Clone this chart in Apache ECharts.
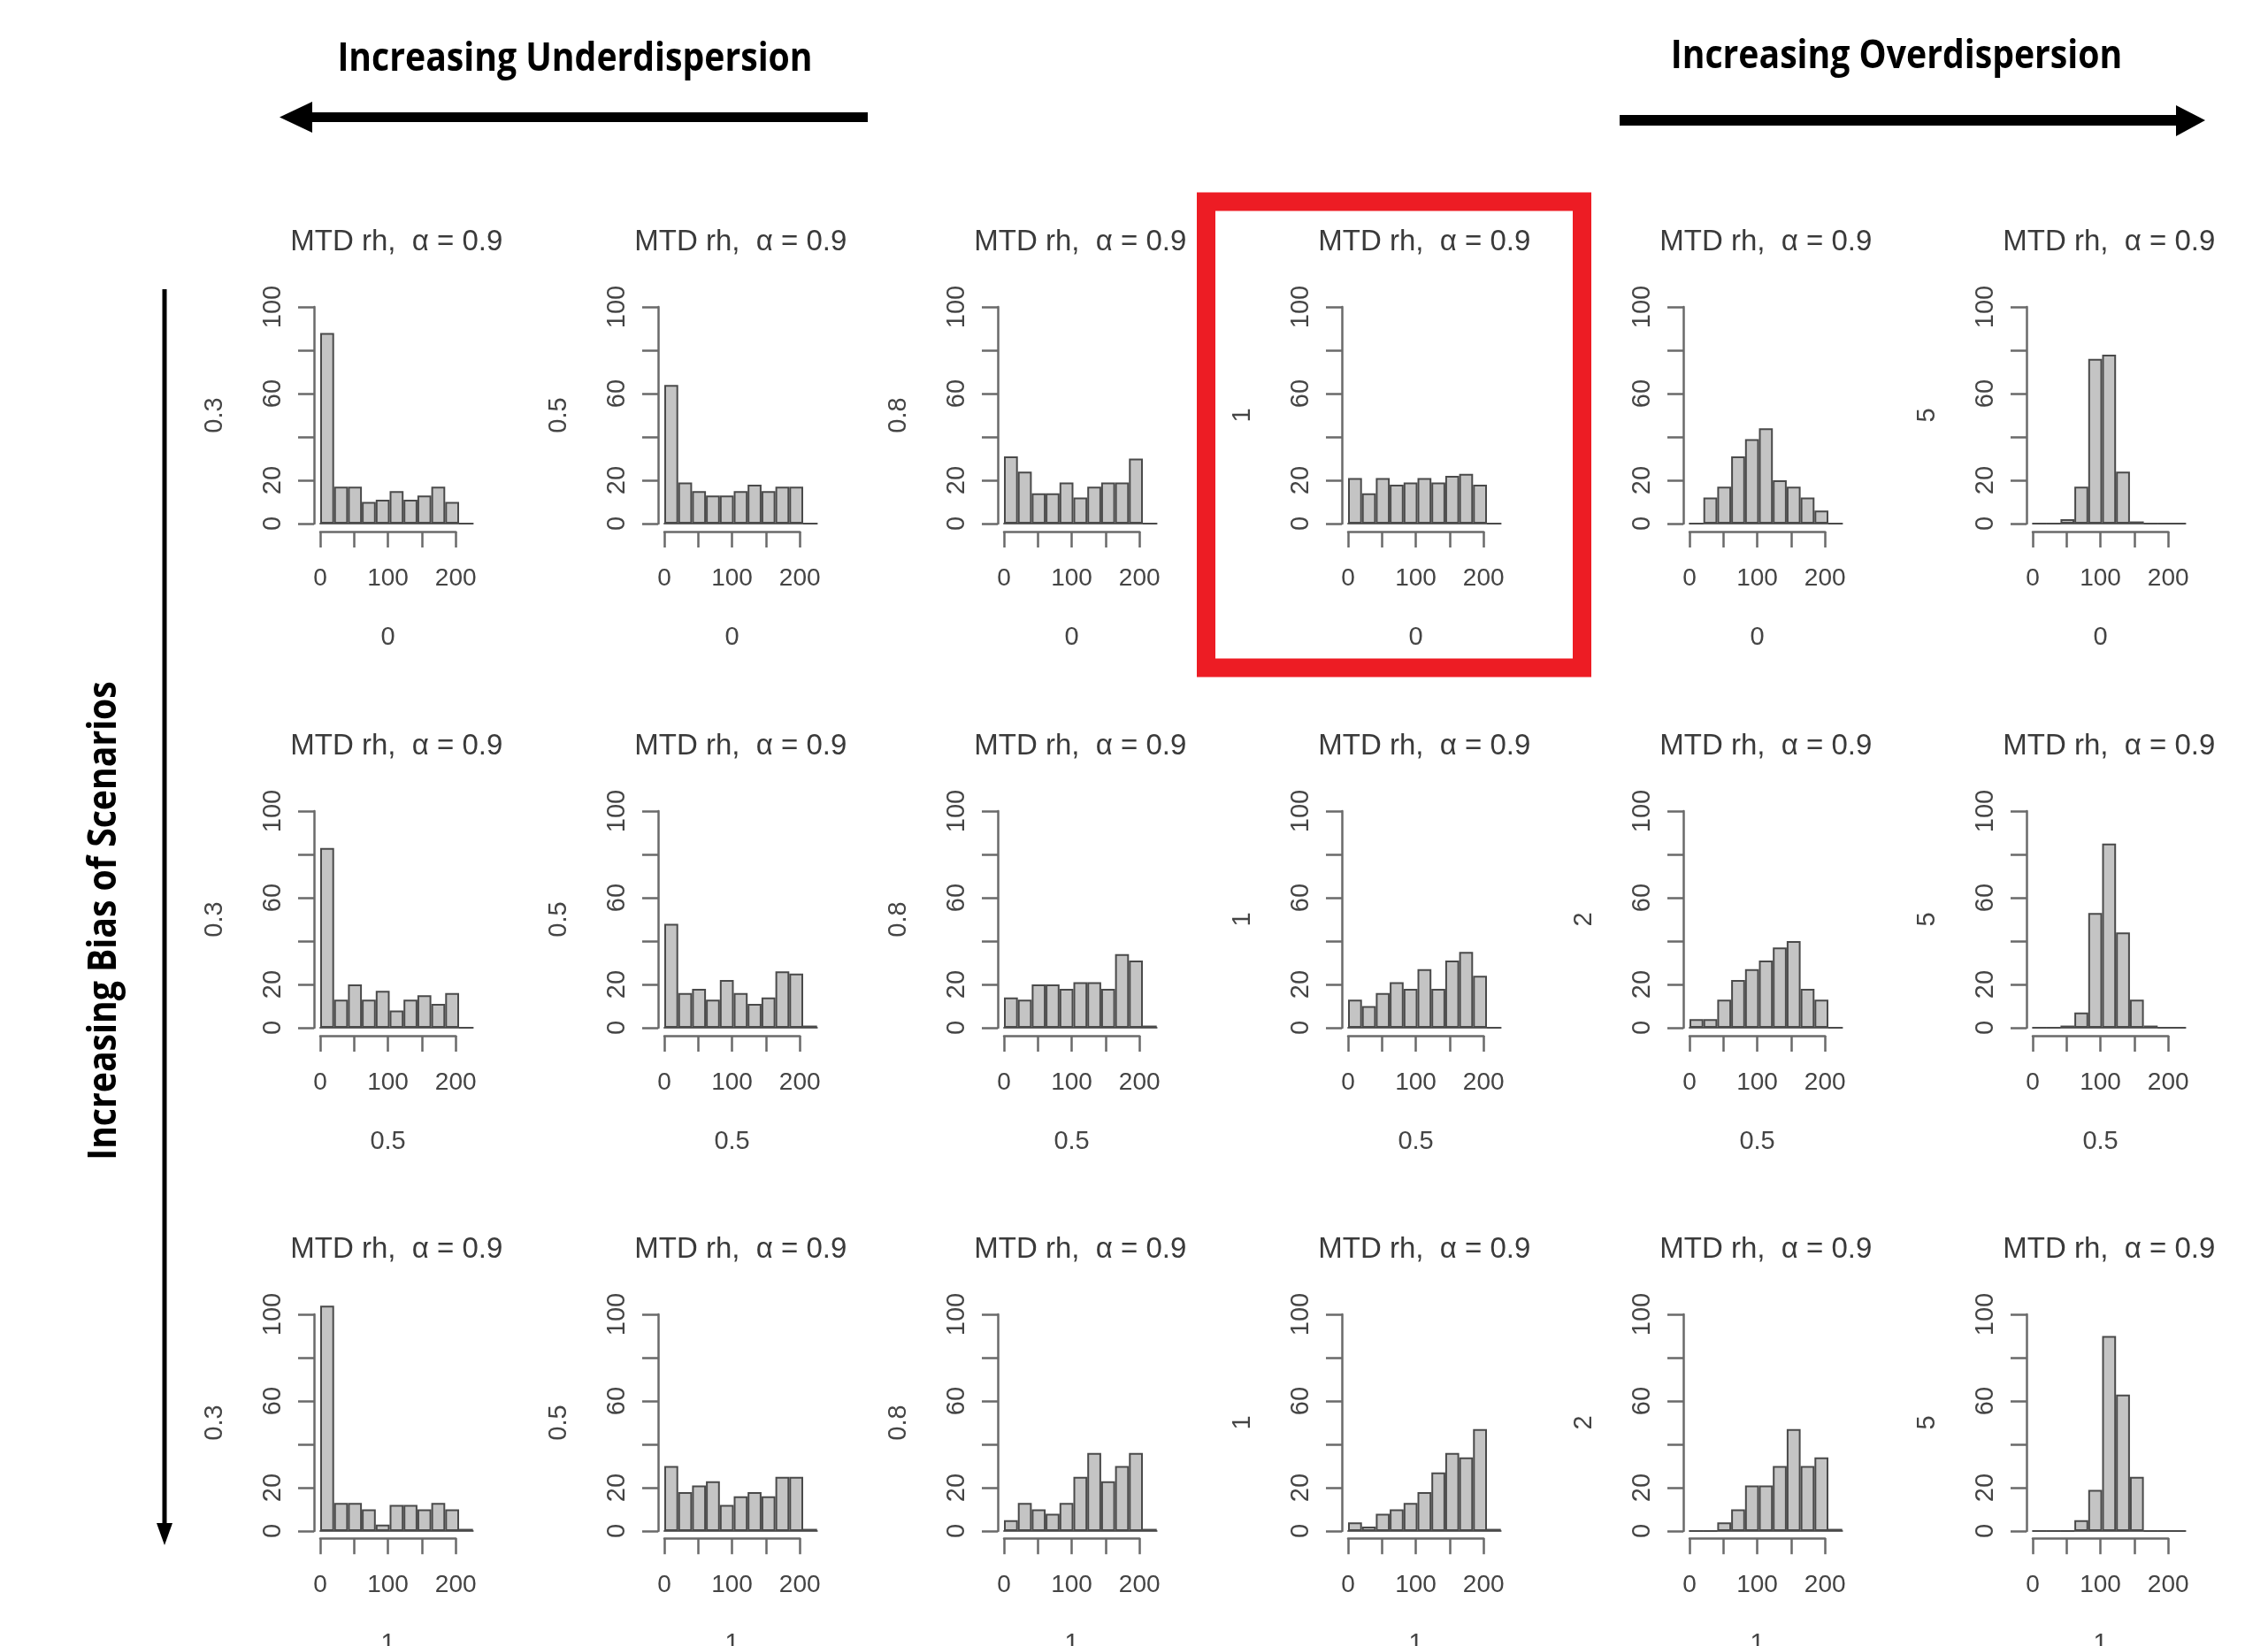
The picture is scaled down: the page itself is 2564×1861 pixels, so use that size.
<!DOCTYPE html>
<html><head><meta charset="utf-8">
<script src="https://cdn.jsdelivr.net/npm/echarts@6/dist/echarts.min.js"></script>
<style>html,body{margin:0;padding:0;background:#fff}#c{width:2564px;height:1861px}</style>
</head><body><div id="c"></div>
<script>
// ---- data ----
const bins = ['0','20.5','41','61.5','82','102.5','123','143.5','164','184.5','205'];
const yTickLabels = [0, 20, 60, 100];
const xTickLabels = [0, 100, 200];
const dispersionLabels = ['0.3', '0.5', '0.8', '1', '2', '5'];
const biasLabels = ['0', '0.5', '1'];
const panelTitle = 'MTD rh,  \u03b1 = 0.9';

// bias 0
const b0_d03 = [88, 17, 17, 10, 11, 15, 11, 13, 17, 10, 0];
const b0_d05 = [64, 19, 15, 13, 13, 15, 18, 15, 17, 17, 0];
const b0_d08 = [31, 24, 14, 14, 19, 12, 17, 19, 19, 30, 0];
const b0_d1  = [21, 14, 21, 18, 19, 21, 19, 22, 23, 18, 0];
const b0_d2  = [0, 12, 17, 31, 39, 44, 20, 17, 12, 6, 0];
const b0_d5  = [0, 0, 2, 17, 76, 78, 24, 1, 0, 0, 0];
// bias 0.5
const b05_d03 = [83, 13, 20, 13, 17, 8, 13, 15, 11, 16, 0];
const b05_d05 = [48, 16, 18, 13, 22, 16, 11, 14, 26, 25, 1];
const b05_d08 = [14, 13, 20, 20, 18, 21, 21, 18, 34, 31, 1];
const b05_d1  = [13, 10, 16, 21, 18, 27, 18, 31, 35, 24, 0];
const b05_d2  = [4, 4, 13, 22, 27, 31, 37, 40, 18, 13, 0];
const b05_d5  = [0, 0, 1, 7, 53, 85, 44, 13, 1, 0, 0];
// bias 1
const b1_d03 = [104, 13, 13, 10, 3, 12, 12, 10, 13, 10, 1];
const b1_d05 = [30, 18, 21, 23, 12, 16, 18, 16, 25, 25, 1];
const b1_d08 = [5, 13, 10, 8, 13, 25, 36, 23, 30, 36, 1];
const b1_d1  = [4, 2, 8, 10, 13, 18, 27, 36, 34, 47, 1];
const b1_d2  = [0, 0, 4, 10, 21, 21, 30, 47, 30, 34, 1];
const b1_d5  = [0, 0, 0, 5, 19, 90, 63, 25, 0, 0, 0];

const panelRows = [
  [b0_d03, b0_d05, b0_d08, b0_d1, b0_d2, b0_d5],
  [b05_d03, b05_d05, b05_d08, b05_d1, b05_d2, b05_d5],
  [b1_d03, b1_d05, b1_d08, b1_d1, b1_d2, b1_d5]
];

// ---- layout ----
const colAxisX = [355, 744, 1128, 1517, 1903, 2291];
const rowTop = [347, 917, 1486];
const plotH = 245;
const barGap = 7;
const binPx = 15.7;
const binUnits = 20.5;
const W = binPx * bins.length;
const xAxisW = binPx * 200 / binUnits;
const xAxisOffset = 9;

const AX = '#6a6a6a', TXT = '#444', FONT = '"Liberation Sans", Arial, sans-serif';

const grids = [], xAxes = [], yAxes = [], series = [], graphics = [];

for (let r = 0; r < 3; r++) {
  for (let c = 0; c < 6; c++) {
    const ax = colAxisX[c], top = rowTop[r], y0 = top + plotH, left = ax + barGap;
    const gi = grids.length;
    grids.push({left: left, top: top, width: W, height: plotH});
    grids.push({left: left, top: y0 + xAxisOffset - 1, width: xAxisW, height: 1});
    xAxes.push({
      type: 'category', gridIndex: gi, data: bins, boundaryGap: true,
      axisLine: {show: true, lineStyle: {color: '#666', width: 2}},
      axisTick: {show: false}, axisLabel: {show: false}, splitLine: {show: false}
    });
    xAxes.push({
      type: 'value', gridIndex: gi + 1, min: 0, max: 200, interval: 50,
      axisLine: {show: true, lineStyle: {color: AX, width: 2.5}},
      axisTick: {show: true, length: 18, lineStyle: {color: AX, width: 2.5}},
      axisLabel: {show: true, margin: 39, fontSize: 28, color: TXT, fontFamily: FONT,
        formatter: v => xTickLabels.indexOf(v) >= 0 ? String(v) : ''},
      splitLine: {show: false},
      name: biasLabels[r], nameLocation: 'middle', nameGap: 105,
      nameTextStyle: {fontSize: 29, color: TXT, fontFamily: FONT}
    });
    yAxes.push({
      type: 'value', gridIndex: gi, min: 0, max: 100, interval: 20, offset: barGap,
      axisLine: {show: true, lineStyle: {color: AX, width: 2.5}},
      axisTick: {show: true, length: 18, lineStyle: {color: AX, width: 2.5}},
      axisLabel: {show: true, rotate: 90, margin: 32, fontSize: 29, color: TXT, fontFamily: FONT,
        formatter: v => yTickLabels.indexOf(v) >= 0 ? String(v) : ''},
      splitLine: {show: false},
      name: dispersionLabels[c], nameLocation: 'middle', nameRotate: 90, nameGap: 98,
      nameTextStyle: {fontSize: 29, color: TXT, fontFamily: FONT}
    });
    yAxes.push({type: 'value', gridIndex: gi + 1, show: false, min: 0, max: 1});
    series.push({
      type: 'bar', xAxisIndex: gi, yAxisIndex: gi, data: panelRows[r][c],
      barCategoryGap: '0%', clip: false, silent: true,
      itemStyle: {color: '#c4c4c4', borderColor: '#4a4a4a', borderWidth: 2}
    });
    graphics.push({
      type: 'text', x: left + W / 2, y: top - 73, silent: true,
      style: {text: panelTitle, fontSize: 33, fill: '#3a3a3a', fontFamily: FONT, align: 'center', verticalAlign: 'middle'}
    });
  }
}

// headers and arrows
const HFONT = '"Open Sans", "Noto Sans", sans-serif';
graphics.push({type: 'text', x: 650, y: 67, scaleX: 0.89, silent: true,
  style: {text: 'Increasing Underdispersion', fontSize: 44, fontWeight: 'bold', fill: '#000', fontFamily: HFONT, align: 'center', verticalAlign: 'middle'}});
graphics.push({type: 'text', x: 2144, y: 64, scaleX: 0.89, silent: true,
  style: {text: 'Increasing Overdispersion', fontSize: 44, fontWeight: 'bold', fill: '#000', fontFamily: HFONT, align: 'center', verticalAlign: 'middle'}});
graphics.push({type: 'text', x: 118, y: 1041, rotation: Math.PI / 2, scaleX: 0.89, silent: true,
  style: {text: 'Increasing Bias of Scenarios', fontSize: 44, fontWeight: 'bold', fill: '#000', fontFamily: HFONT, align: 'center', verticalAlign: 'middle'}});
graphics.push({type: 'rect', silent: true, shape: {x: 350, y: 127, width: 631, height: 11}, style: {fill: '#000'}});
graphics.push({type: 'polygon', silent: true, shape: {points: [[316, 132.5], [353, 115], [353, 150]]}, style: {fill: '#000'}});
graphics.push({type: 'rect', silent: true, shape: {x: 1831, y: 130, width: 632, height: 12}, style: {fill: '#000'}});
graphics.push({type: 'polygon', silent: true, shape: {points: [[2493, 136], [2460, 119], [2460, 154]]}, style: {fill: '#000'}});
graphics.push({type: 'rect', silent: true, shape: {x: 183.5, y: 327, width: 5, height: 1400}, style: {fill: '#000'}});
graphics.push({type: 'polygon', silent: true, shape: {points: [[186, 1747], [177, 1722], [195, 1722]]}, style: {fill: '#000'}});
// highlight box
graphics.push({type: 'rect', silent: true, z: 100, shape: {x: 1363.5, y: 228, width: 425, height: 527},
  style: {fill: 'none', stroke: '#ed1c24', lineWidth: 21}});

const chart = echarts.init(document.getElementById('c'), null, {renderer: 'canvas'});
chart.setOption({
  animation: false,
  backgroundColor: '#fff',
  grid: grids, xAxis: xAxes, yAxis: yAxes, series: series,
  graphic: {elements: graphics}
});
</script></body></html>
